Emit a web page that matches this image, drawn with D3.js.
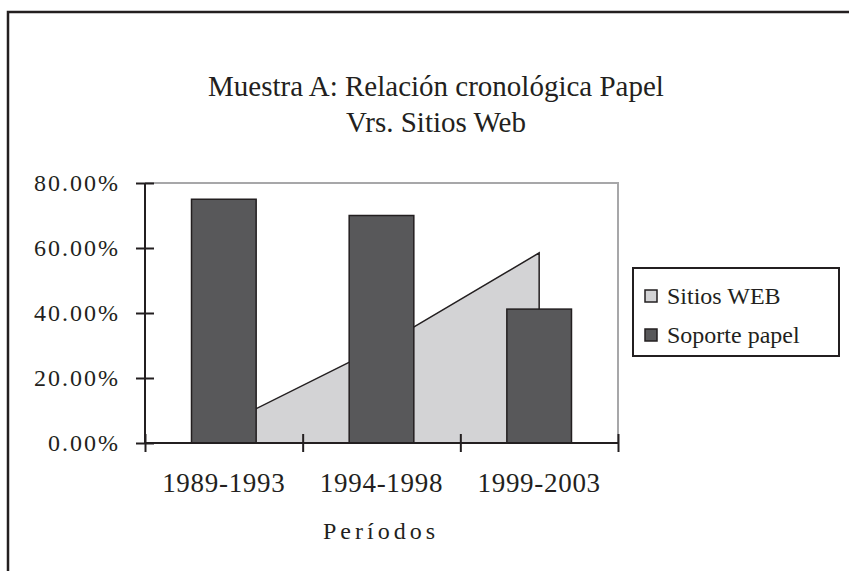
<!DOCTYPE html>
<html>
<head>
<meta charset="utf-8">
<script src="https://cdn.jsdelivr.net/npm/d3@7"></script>
<style>
  body { margin: 0; background: #fff; }
  text { font-family: "Liberation Serif", "Times New Roman", serif; fill: #231f20; }
</style>
</head>
<body>
<div id="chart"></div>
<script>
// chart data
var periods = ["1989-1993", "1994-1998", "1999-2003"];
var papel = [0.75, 0.70, 0.412];
var sitiosWeb = [0.056, 0.298, 0.585];
var yTicks = [0, 0.2, 0.4, 0.6, 0.8];
var seriesNames = ["Sitios WEB", "Soporte papel"];

var svgWidth = 849, svgHeight = 571;
var margin = { top: 183, right: 231, bottom: 128, left: 145 };
var chartWidth = svgWidth - margin.left - margin.right;
var chartHeight = svgHeight - margin.top - margin.bottom;

var svg = d3.select("#chart").append("svg")
  .attr("width", svgWidth)
  .attr("height", svgHeight);

// outer frame (top and left only are visible)
svg.append("path")
  .attr("d", "M8,571 V12 H849")
  .attr("fill", "none")
  .attr("stroke", "#231f20")
  .attr("stroke-width", 2.5);

// title
var title = svg.append("text")
  .attr("text-anchor", "middle")
  .attr("font-size", "29px");
title.append("tspan").attr("x", 436).attr("y", 96).text("Muestra A: Relación cronológica Papel");
title.append("tspan").attr("x", 436).attr("y", 132).text("Vrs. Sitios Web");

var chartGroup = svg.append("g")
  .attr("transform", `translate(${margin.left}, ${margin.top})`);

var xScale = d3.scaleBand()
  .domain(periods)
  .range([0, chartWidth]);

var yScale = d3.scaleLinear()
  .domain([0, 0.8])
  .range([chartHeight, 0]);

// plot area border (top / right, grey)
chartGroup.append("path")
  .attr("d", `M0,0 H${chartWidth} V${chartHeight}`)
  .attr("fill", "none")
  .attr("stroke", "#a7a7a9")
  .attr("stroke-width", 2);

// area series
var area = d3.area()
  .x((d, i) => xScale(periods[i]) + xScale.bandwidth() / 2)
  .y0(yScale(0))
  .y1(d => yScale(d));

chartGroup.append("path")
  .datum(sitiosWeb)
  .attr("d", area)
  .attr("fill", "#d3d3d5")
  .attr("stroke", "#231f20")
  .attr("stroke-width", 1.5);

// bars
var barW = xScale.bandwidth() * 0.41;
chartGroup.selectAll(".bar")
  .data(papel)
  .enter()
  .append("rect")
  .attr("class", "bar")
  .attr("x", (d, i) => xScale(periods[i]) + (xScale.bandwidth() - barW) / 2)
  .attr("y", d => yScale(d))
  .attr("width", barW)
  .attr("height", d => yScale(0) - yScale(d))
  .attr("fill", "#58585a")
  .attr("stroke", "#231f20")
  .attr("stroke-width", 1.5);

// y axis
var yAxis = d3.axisLeft(yScale)
  .tickValues(yTicks)
  .tickSize(9)
  .tickPadding(16)
  .tickFormat(d3.format(".2%"));

var yAxisG = chartGroup.append("g").call(yAxis);
yAxisG.select(".domain").remove();
yAxisG.append("line")
  .attr("y1", 0).attr("y2", chartHeight)
  .attr("stroke", "#231f20").attr("stroke-width", 2);
yAxisG.selectAll(".tick line")
  .attr("x1", 9)
  .attr("stroke", "#231f20")
  .attr("stroke-width", 2);
yAxisG.selectAll(".tick text")
  .attr("font-size", "24px")
  .attr("letter-spacing", "2px")
  .attr("fill", "#231f20");

// x axis: boundary ticks
var xEdge = d3.scaleLinear().domain([0, periods.length]).range([0, chartWidth]);
var xTickAxis = d3.axisBottom(xEdge)
  .tickValues(d3.range(periods.length + 1))
  .tickSize(9)
  .tickFormat("");

var xAxisG = chartGroup.append("g")
  .attr("transform", `translate(0, ${chartHeight})`)
  .call(xTickAxis);
xAxisG.select(".domain").remove();
xAxisG.append("line")
  .attr("x1", 0).attr("x2", chartWidth)
  .attr("stroke", "#231f20").attr("stroke-width", 2);
xAxisG.selectAll(".tick line")
  .attr("y1", -9)
  .attr("stroke", "#231f20")
  .attr("stroke-width", 2);

// x labels
chartGroup.selectAll(".xlabel")
  .data(periods)
  .enter()
  .append("text")
  .attr("class", "xlabel")
  .attr("x", d => xScale(d) + xScale.bandwidth() / 2)
  .attr("y", chartHeight + 49)
  .attr("text-anchor", "middle")
  .attr("font-size", "27px")
  .attr("letter-spacing", "0.7px")
  .text(d => d);

// x axis title
svg.append("text")
  .attr("x", 381)
  .attr("y", 539)
  .attr("text-anchor", "middle")
  .attr("font-size", "24px")
  .attr("letter-spacing", "4px")
  .text("Períodos");

// legend
var legend = svg.append("g").attr("transform", "translate(633, 268)");
legend.append("rect")
  .attr("width", 206)
  .attr("height", 88)
  .attr("fill", "#fff")
  .attr("stroke", "#231f20")
  .attr("stroke-width", 2);

var legendColors = ["#d3d3d5", "#58585a"];
var item = legend.selectAll(".item")
  .data(seriesNames)
  .enter()
  .append("g")
  .attr("class", "item")
  .attr("transform", (d, i) => `translate(12, ${28 + i * 39})`);
item.append("rect")
  .attr("x", 0).attr("y", -6)
  .attr("width", 12).attr("height", 12)
  .attr("fill", (d, i) => legendColors[i])
  .attr("stroke", "#231f20")
  .attr("stroke-width", 1.5);
item.append("text")
  .attr("x", 22)
  .attr("y", 8)
  .attr("font-size", "24px")
  .text(d => d);
</script>
</body>
</html>
